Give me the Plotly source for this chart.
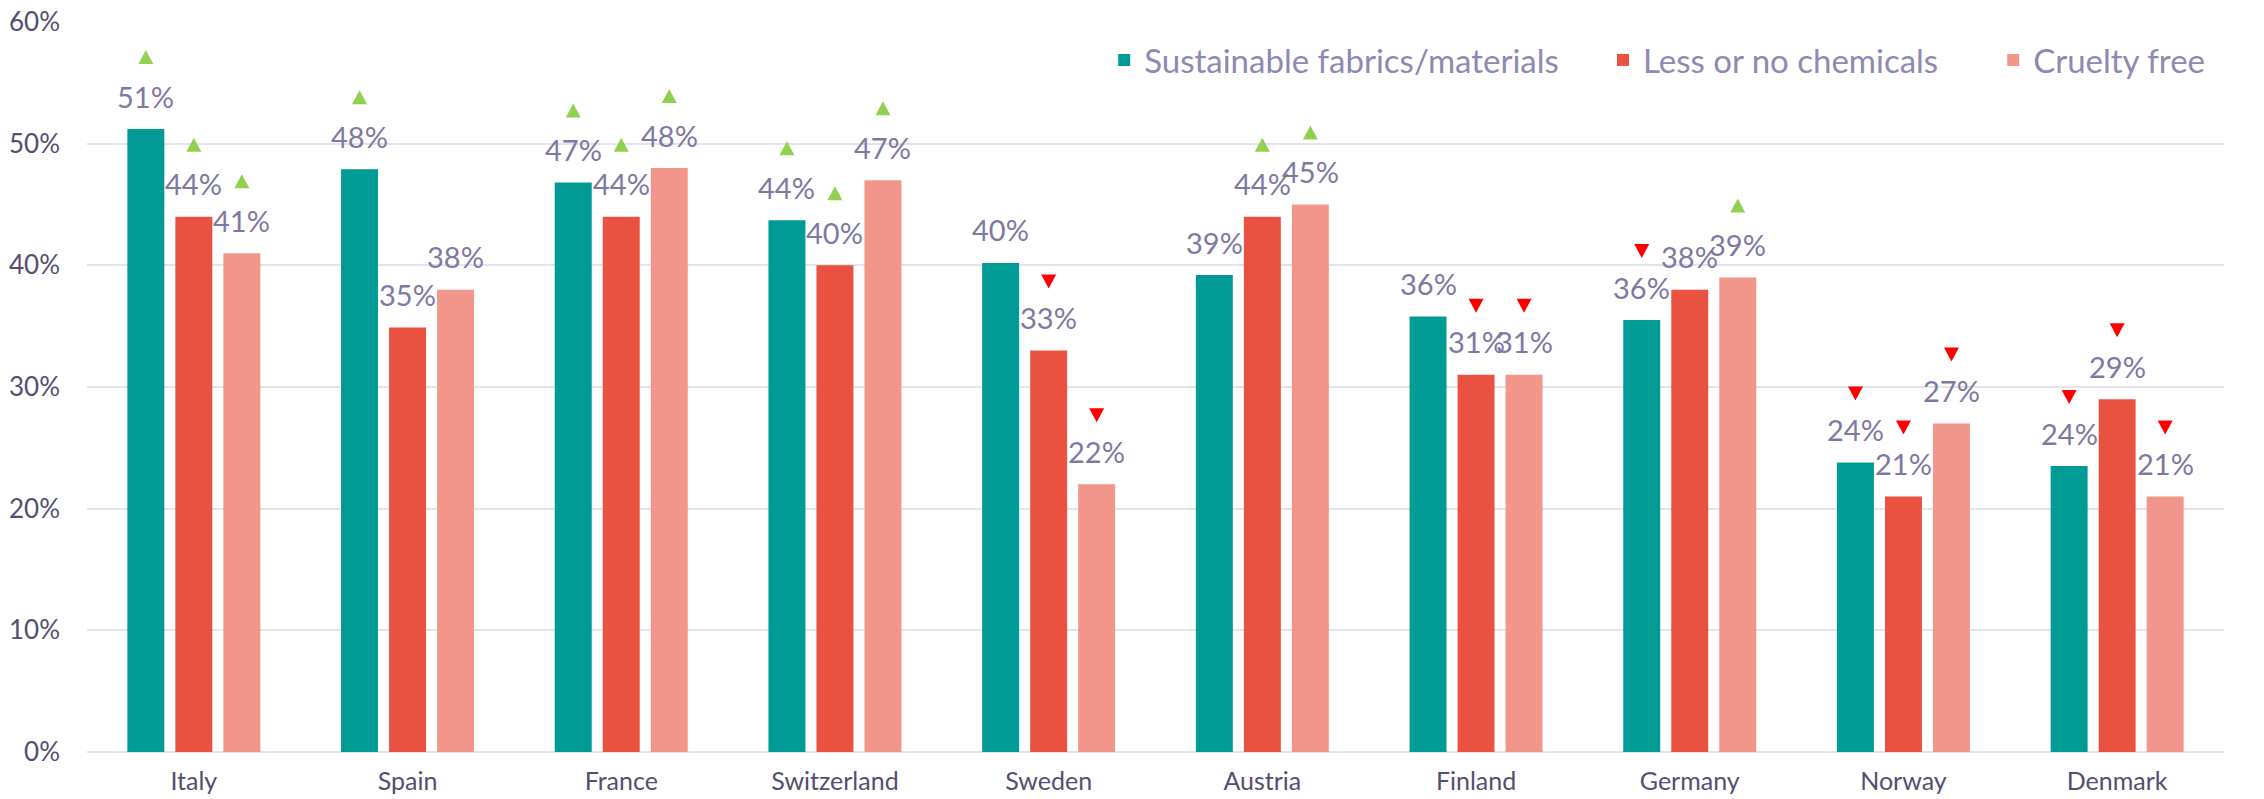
import plotly.graph_objects as go

countries = ["Italy", "Spain", "France", "Switzerland", "Sweden",
             "Austria", "Finland", "Germany", "Norway", "Denmark"]
series_names = ["Sustainable fabrics/materials", "Less or no chemicals", "Cruelty free"]

sustainable = [51.2, 47.9, 46.8, 43.7, 40.2, 39.2, 35.8, 35.5, 23.8, 23.5]
chemicals = [44.0, 34.9, 44.0, 40.0, 33.0, 44.0, 31.0, 38.0, 21.0, 29.0]
cruelty = [41.0, 38.0, 48.0, 47.0, 22.0, 45.0, 31.0, 39.0, 27.0, 21.0]

sustainable_labels = ["51%", "48%", "47%", "44%", "40%", "39%", "36%", "36%", "24%", "24%"]
chemicals_labels = ["44%", "35%", "44%", "40%", "33%", "44%", "31%", "38%", "21%", "29%"]
cruelty_labels = ["41%", "38%", "48%", "47%", "22%", "45%", "31%", "39%", "27%", "21%"]

# trend markers: "up", "down" or "" (none)
sustainable_trend = ["up", "up", "up", "up", "", "", "", "down", "down", "down"]
chemicals_trend = ["up", "", "up", "up", "down", "up", "down", "", "down", "down"]
cruelty_trend = ["up", "", "up", "up", "down", "up", "down", "up", "down", "down"]

y_ticks = [0, 10, 20, 30, 40, 50, 60]
y_ticktext = ["0%", "10%", "20%", "30%", "40%", "50%", "60%"]

colors = ["#009B94", "#E95140", "#F2958A"]
UP_COLOR = "#92D050"
DOWN_COLOR = "#FF0000"
LABEL_COLOR = "#7E78A2"
TICK_COLOR = "#544E72"
LEGEND_COLOR = "#8E89B2"
GRID_COLOR = "#E4E2EA"
FONT = "Lato, Roboto, sans-serif"

BARGAP = 0.326
BARGROUPGAP = 0.23
legend_x = [0.476, 0.7094, 0.892]

values = [sustainable, chemicals, cruelty]
labels = [sustainable_labels, chemicals_labels, cruelty_labels]
trends = [sustainable_trend, chemicals_trend, cruelty_trend]
legend_ids = ["legend", "legend2", "legend3"]

xs = list(range(len(countries)))

fig = go.Figure()
for k in range(3):
    fig.add_trace(go.Bar(
        x=xs, y=values[k], name=series_names[k],
        marker=dict(color=colors[k], line=dict(width=0)),
        hoverinfo="skip", legend=legend_ids[k],
    ))

slot = (1 - BARGAP) / 3
annotations = []
shapes = []
for k in range(3):
    off = (k - 1) * slot
    for i, v in enumerate(values[k]):
        xpos = xs[i] + off
        annotations.append(dict(
            x=xpos, y=v, xref="x", yref="y", text=labels[k][i],
            showarrow=False, yanchor="middle", xanchor="center", yshift=33,
            font=dict(family=FONT, size=29, color=LABEL_COLOR),
        ))
        t = trends[k][i]
        if t == "up":
            path = "M -7.5,65 L 7.5,65 L 0,79 Z"
            col = UP_COLOR
        elif t == "down":
            path = "M -7.5,76 L 7.5,76 L 0,62 Z"
            col = DOWN_COLOR
        else:
            continue
        shapes.append(dict(
            type="path", xref="x", yref="y", xsizemode="pixel", ysizemode="pixel",
            xanchor=xpos, yanchor=v, path=path,
            fillcolor=col, line=dict(width=0), layer="above",
        ))

legend_common = dict(
    orientation="h", xanchor="left", y=0.948, yanchor="middle",
    font=dict(family=FONT, size=33, color=LEGEND_COLOR),
    bgcolor="rgba(0,0,0,0)", itemwidth=30,
)

fig.update_layout(
    width=2264, height=799,
    margin=dict(l=87, r=40, t=22, b=47),
    paper_bgcolor="white", plot_bgcolor="white",
    barmode="group", bargap=BARGAP, bargroupgap=BARGROUPGAP,
    showlegend=True,
    legend=dict(x=legend_x[0], **legend_common),
    legend2=dict(x=legend_x[1], **legend_common),
    legend3=dict(x=legend_x[2], **legend_common),
    xaxis=dict(
        tickmode="array", tickvals=xs, ticktext=countries,
        range=[-0.5, len(countries) - 0.5], automargin=False,
        showgrid=False, zeroline=False, showline=False, ticks="",
        tickfont=dict(family=FONT, size=25, color=TICK_COLOR),
        ticklabelstandoff=12,
    ),
    yaxis=dict(
        range=[0, 60], tickmode="array", tickvals=y_ticks, ticktext=y_ticktext,
        automargin=False,
        showgrid=True, gridcolor=GRID_COLOR, gridwidth=2,
        zeroline=True, zerolinecolor=GRID_COLOR, zerolinewidth=2,
        showline=False, ticks="",
        tickfont=dict(family=FONT, size=26, color=TICK_COLOR),
        ticklabelstandoff=26,
    ),
    annotations=annotations,
    shapes=shapes,
)

fig.write_html("out.html")
